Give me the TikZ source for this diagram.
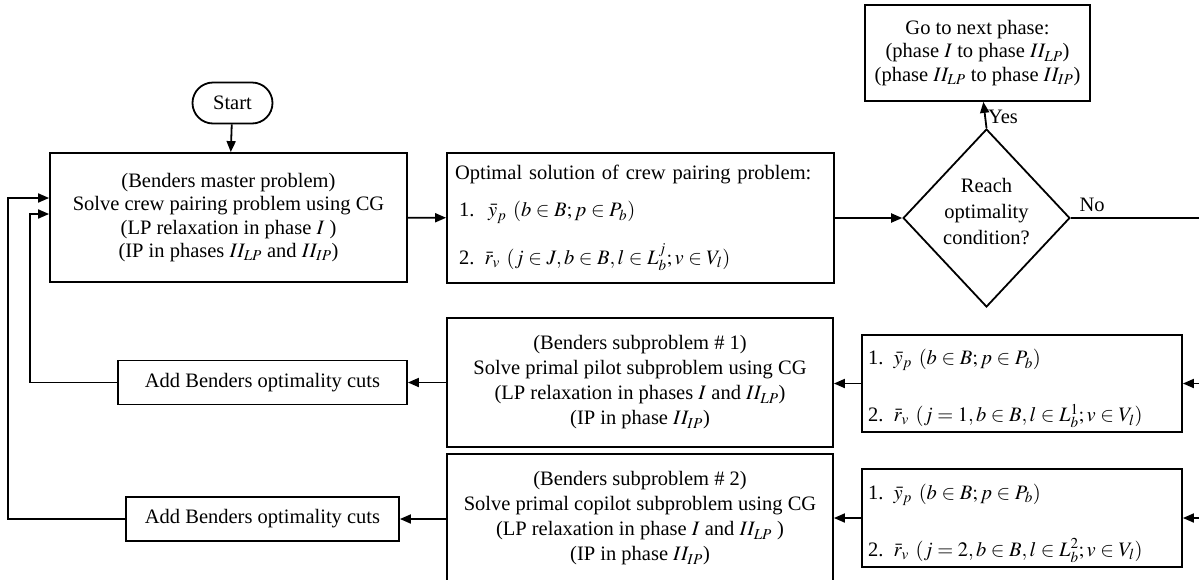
\documentclass[tikz,border=0pt]{standalone}
\usepackage{mathptmx}
\usepackage{fontspec}
\setmainfont{Liberation Serif}
\usetikzlibrary{arrows.meta,shapes.geometric,calc}
\newcommand{\msz}{\fontsize{20.5}{23.5}\selectfont}
\newcommand{\wsz}{\fontsize{20.5}{25}\selectfont}
\begin{document}
\begin{tikzpicture}[x=1pt,y=-1pt,
  box/.style={draw, line width=1.8pt, inner sep=0pt, align=center, font=\msz},
  lbox/.style={draw, line width=1.8pt, inner sep=0pt, align=left, font=\msz},
  arr/.style={-{Triangle[length=11pt,width=9pt]}, line width=1.8pt},
  ln/.style={line width=1.8pt},
  lab/.style={font=\msz, inner sep=1pt}]
\useasboundingbox (0,0) rectangle (1199,579);
\clip (0,0) rectangle (1199,579);
% nodes
\node[box, rounded corners=20.5pt, minimum width=80pt, minimum height=41pt] (start) at (232.5,103) {Start};
\node[box, minimum width=357pt, minimum height=129pt] (master) at (228.5,217.5)
  {(Benders master problem)\\Solve crew pairing problem using CG\\(LP relaxation in phase $I$ )\\(IP in phases $II_{LP}$ and $II_{IP}$)};
\node[lbox, minimum width=387pt, minimum height=130pt, text width=371pt] (opt) at (640.5,218)
  {Optimal solution of crew pairing problem:\\[14pt]
   \hspace*{4pt}1.\ \ $\bar{y}_p$ $(b\in B; p\in P_b)$\\[20pt]
   \hspace*{4pt}2. $\bar{r}_v$ $(j\in J, b\in B, l\in L^j_b; v\in V_l)$};
\node[box, shape=diamond, minimum width=160pt, minimum height=178pt] (dec) at (986.5,218)
  {Reach\\[2.5pt]optimality\\[2.5pt]condition?\rule[-14pt]{0pt}{0pt}};
\node[box, minimum width=225pt, minimum height=96pt] (go) at (977.5,53)
  {Go to next phase:\\(phase $I$ to phase $II_{LP}$)\\(phase $II_{LP}$ to phase $II_{IP}$)};
\node[box, font=\wsz, minimum width=386pt, minimum height=129pt] (sub1) at (640,382.5)
  {(Benders subproblem \# 1)\\Solve primal pilot subproblem using CG\\(LP relaxation in phases $I$ and $II_{LP}$)\\(IP in phase $II_{IP}$)};
\node[box, font=\wsz, minimum width=386pt, minimum height=129pt] (sub2) at (640,518.5)
  {(Benders subproblem \# 2)\\Solve primal copilot subproblem using CG\\(LP relaxation in phase $I$ and $II_{LP}$ )\\(IP in phase $II_{IP}$)};
\node[lbox, minimum width=320pt, minimum height=97pt, text width=308pt] (rb1) at (1022,383.5)
  {\rule{0pt}{26pt}1. $\bar{y}_p$ $(b\in B; p\in P_b)$\\[32pt]
   2. $\bar{r}_v$ $(j=1, b\in B, l\in L^1_b; v\in V_l)$};
\node[lbox, minimum width=320pt, minimum height=98pt, text width=308pt] (rb2) at (1022,518)
  {\rule{0pt}{26pt}1. $\bar{y}_p$ $(b\in B; p\in P_b)$\\[32pt]
   2. $\bar{r}_v$ $(j=2, b\in B, l\in L^2_b; v\in V_l)$};
\node[box, minimum width=289pt, minimum height=44pt] (cuts1) at (262.5,382.5) {Add Benders optimality cuts};
\node[box, minimum width=273pt, minimum height=44pt] (cuts2) at (262.5,519) {Add Benders optimality cuts};
% helper coordinates
\coordinate (r0) at (1215,218);
\coordinate (r1) at (1215,383.5);
\coordinate (r2) at (1215,518);
\coordinate (l1) at (30,382.5);
\coordinate (l2) at (8,519);
% connectors
\draw[arr] (start) -- (master);
\draw[arr] (master) -- (opt);
\draw[arr] (opt) -- (dec.west);
\draw[arr] (dec.north) -- node[lab, right, inner sep=2pt, pos=0.42] {Yes} (go);
\draw[ln] (dec.east) -- node[lab, above, inner sep=5pt, anchor=south west, pos=0.02] {No} (r0) -- (r2);
\draw[arr] (r1) -- (rb1.east);
\draw[arr] (r2) -- (rb2.east);
\draw[arr] (rb1.west) -- (sub1.east |- rb1.west);
\draw[arr] (rb2.west) -- (sub2.east |- rb2.west);
\draw[arr] (sub1.west |- cuts1.east) -- (cuts1.east);
\draw[arr] (sub2.west |- cuts2.east) -- (cuts2.east);
\draw[arr] (cuts1.west) -- (l1) |- ([yshift=3.5pt]master.west);
\draw[arr] (cuts2.west) -- (l2) |- ([yshift=19.5pt]master.west);
\end{tikzpicture}
\end{document}
